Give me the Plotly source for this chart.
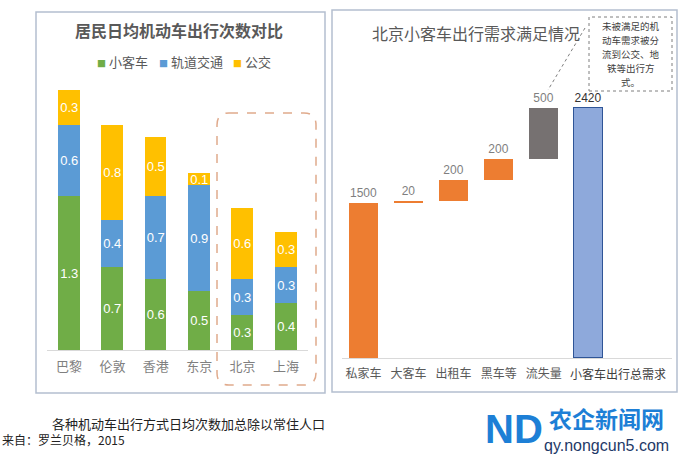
import plotly.graph_objects as go

# ---------------- data ----------------
cities = ["巴黎", "伦敦", "香港", "东京", "北京", "上海"]
car = [1.3, 0.7, 0.6, 0.5, 0.3, 0.4]
rail = [0.6, 0.4, 0.7, 0.9, 0.3, 0.3]
bus = [0.3, 0.8, 0.5, 0.1, 0.6, 0.3]
series_names = ["小客车", "轨道交通", "公交"]

wf_cats = ["私家车", "大客车", "出租车", "黑车等", "流失量", "小客车出行总需求"]
wf_vals = [1500, 20, 200, 200, 500, 2420]
wf_is_total = [False, False, False, False, False, True]

callout_lines = ["未被满足的机", "动车需求被分", "流到公交、地", "铁等出行方", "式。"]

W, H = 684, 456
CJK = "Noto Sans CJK SC"
NUM = "Liberation Sans, Noto Sans CJK SC"


def px(x):
    return x / W


def py(y):
    return 1 - y / H


# waterfall bases computed from the values
wf_base = []
run = 0
for v, tot in zip(wf_vals, wf_is_total):
    if tot:
        wf_base.append(0)
    else:
        wf_base.append(run)
        run += v

fig = go.Figure()

colors = ["#70AD47", "#5B9BD5", "#FFC000"]
for name, vals, col in zip(series_names, [car, rail, bus], colors):
    fig.add_trace(go.Bar(
        x=cities, y=vals, name=name, marker=dict(color=col, line=dict(width=0)),
        text=[f"{v:.1f}" for v in vals], textposition="inside", textangle=0,
        insidetextanchor="middle", constraintext="none",
        textfont=dict(color="white", size=13, family=NUM),
        width=0.5, xaxis="x", yaxis="y", showlegend=False,
    ))

wf_colors = ["#ED7D31", "#ED7D31", "#ED7D31", "#ED7D31", "#767171", "#8EA9DB"]
wf_line = ["#ED7D31", "#ED7D31", "#ED7D31", "#ED7D31", "#767171", "#2F5597"]
fig.add_trace(go.Bar(
    x=list(range(len(wf_cats))), y=wf_vals, base=wf_base,
    marker=dict(color=wf_colors, line=dict(color=wf_line, width=[0, 0, 0, 0, 0, 1])),
    text=[str(v) for v in wf_vals], textposition="outside", textangle=0,
    cliponaxis=False, constraintext="none",
    textfont=dict(color=["#7F7F7F"] * 5 + ["#333333"], size=12, family=NUM),
    width=0.64, xaxis="x2", yaxis="y2", showlegend=False,
))

fig.update_layout(
    width=W, height=H, autosize=False,
    margin=dict(l=0, r=0, t=0, b=0),
    paper_bgcolor="white", plot_bgcolor="white",
    barmode="stack", bargap=0,
    font=dict(family=CJK, color="#595959"),
    xaxis=dict(domain=[px(47.3), px(307.7)], range=[-0.5, 5.5], type="category",
               showline=True, linecolor="#D9D9D9", linewidth=1, ticks="",
               ticklabelstandoff=4,
               tickfont=dict(size=13, color="#7F7F7F", family=CJK),
               showgrid=False, zeroline=False, fixedrange=True),
    yaxis=dict(domain=[py(350), py(90)], range=[0, 2.2], visible=False,
               showgrid=False, zeroline=False),
    xaxis2=dict(domain=[px(342), px(672)], range=[-0.477, 6.846],
                tickvals=list(range(5)), ticktext=wf_cats[:5],
                showline=True, linecolor="#D9D9D9", linewidth=1, ticks="",
                ticklabelstandoff=5,
                tickfont=dict(size=12, color="#595959", family=CJK),
                showgrid=False, zeroline=False, anchor="y2"),
    yaxis2=dict(domain=[py(358), py(89.3)], range=[0, 2600], visible=False,
                showgrid=False, zeroline=False, anchor="x2"),
)

shapes = []
# panel borders
shapes.append(dict(type="rect", xref="paper", yref="paper", x0=px(36), x1=px(325),
                   y0=py(393), y1=py(12), line=dict(color="#B4BFCF", width=1.5)))
shapes.append(dict(type="rect", xref="paper", yref="paper", x0=px(332), x1=px(677),
                   y0=py(392), y1=py(10), line=dict(color="#B4BFCF", width=1.5)))

# rounded dashed box around Beijing & Shanghai
x0, y0, x1, y1, r = 217, 113, 316, 385, 12
path = (f"M {px(x0 + r)},{py(y0)} L {px(x1 - r)},{py(y0)} "
        f"Q {px(x1)},{py(y0)} {px(x1)},{py(y0 + r)} L {px(x1)},{py(y1 - r)} "
        f"Q {px(x1)},{py(y1)} {px(x1 - r)},{py(y1)} L {px(x0 + r)},{py(y1)} "
        f"Q {px(x0)},{py(y1)} {px(x0)},{py(y1 - r)} L {px(x0)},{py(y0 + r)} "
        f"Q {px(x0)},{py(y0)} {px(x0 + r)},{py(y0)} Z")
shapes.append(dict(type="path", xref="paper", yref="paper", path=path,
                   line=dict(color="#E0AA8C", width=1.5, dash="dash")))

# callout box and leader line
shapes.append(dict(type="rect", xref="paper", yref="paper", x0=px(589), x1=px(672),
                   y0=py(91), y1=py(17), line=dict(color="#7F7F7F", width=1, dash="dot")))
shapes.append(dict(type="line", xref="paper", yref="paper", x0=px(585), y0=py(28),
                   x1=px(548), y1=py(90), line=dict(color="#7F7F7F", width=1, dash="dot")))
fig.update_layout(shapes=shapes)


def note(text, x, y, size, color, family=CJK, xanchor="center", **kw):
    d = dict(text=text, x=px(x), y=py(y), xref="paper", yref="paper",
             xanchor=xanchor, yanchor="middle", showarrow=False,
             font=dict(size=size, color=color, family=family))
    d.update(kw)
    return d


ann = []
ann.append(note("<b>居民日均机动车出行次数对比</b>", 179, 30, 16, "#595959"))
# legend
leg = [(97, "小客车", colors[0]), (159, "轨道交通", colors[1]), (233, "公交", colors[2])]
for lx, name, col in leg:
    ann.append(note(f'<span style="color:{col};font-size:9px">■</span> {name}',
                    lx - 2, 62, 13, "#595959", xanchor="left"))

ann.append(note("北京小客车出行需求满足情况", 476, 33, 16, "#595959"))
for i, line in enumerate(callout_lines):
    ann.append(note(line, 630.5, 26 + 14 * i, 9.5, "#404040"))
# last waterfall category label (offset like original)
ann.append(dict(text=wf_cats[5], x=5, xref="x2", xshift=29, y=py(373), yref="paper",
                xanchor="center", yanchor="middle", showarrow=False,
                font=dict(size=12, color="#404040", family=CJK)))

ann.append(note("各种机动车出行方式日均次数加总除以常住人口", 188, 423, 13, "#222222"))
ann.append(note("来自：罗兰贝格，2015", 0, 439, 12, "#222222", xanchor="left"))

# watermark
ann.append(note("<b>ND</b>", 514, 429, 40, "#1D7FD6", family="Liberation Sans"))
ann.append(note("<b>农企新闻网</b>", 606, 418, 23, "#1D7FD6"))
ann.append(note("qy.nongcun5.com", 606, 445, 16, "#1F3A68", family="Liberation Sans"))
fig.update_layout(annotations=ann)

fig.write_html("out.html", config={"displayModeBar": False},
               post_script="document.body.style.margin='0';")
